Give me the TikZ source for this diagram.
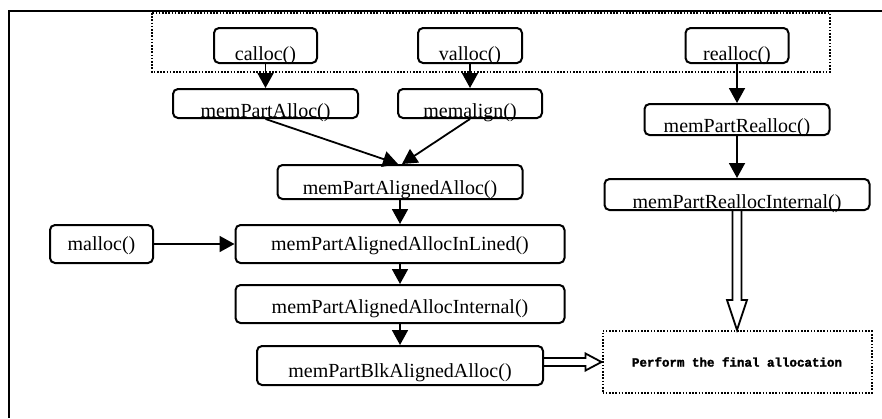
\documentclass[tikz,border=0pt]{standalone}
\usepackage{fontspec}
\setmainfont{Liberation Serif}
\newfontfamily\finalfont{Liberation Mono}[BoldFeatures = {FakeBold = 2}]
\usetikzlibrary{arrows.meta}
\usetikzlibrary{calc}
\tikzset{fn/.style = {draw, fill = white, line width = 1pt, rounded corners = 2.5pt, text depth = 0pt}}
\tikzset{call/.style = {line width = 0.9pt, -{Triangle[length = 7.5pt, width = 8pt]}}}
\tikzset{pass/.style = {line width = 0.9pt, line join = miter}}
\tikzset{dots/.style = {line width = 1pt, dash pattern = on 0.8pt off 0.8pt}}

\begin{document}
\begin{tikzpicture}[x = 0.5pt, y = -0.5pt]
      \useasboundingbox (0, 0) rectangle (882, 418);
      % frame, top and left edges only
      \draw [line width = 1pt] (882, 11) -| (9, 418);
      % the calls a user makes
      \draw [dots] (152, 13) rectangle (830, 72);
      \node [fn, minimum width = 51.5pt, inner ysep = 1.5pt, text height = 14.5pt] (calloc) at (265.5, 45.5) {calloc()};
      \node [fn, minimum width = 52pt, inner ysep = 1.5pt, text height = 14.5pt] (valloc) at (470, 45.5) {valloc()};
      \node [fn, minimum width = 51.5pt, inner ysep = 1.5pt, text height = 14.5pt] (realloc) at (737, 45.5) {realloc()};
      \node [fn, minimum width = 92.5pt, inner ysep = 0.5pt, text height = 13.5pt] (partalloc) at (265.5, 103.5) {memPartAlloc()};
      \node [fn, minimum width = 72pt, inner ysep = 0.5pt, text height = 13.5pt] (memalign) at (470, 103.5) {memalign()};
      \node [fn, minimum width = 92.5pt, inner ysep = 1.5pt, text height = 12.5pt] (partrealloc) at (737, 119.5) {memPartRealloc()};
      \node [fn, minimum width = 122.5pt, inner ysep = 2.5pt, text height = 12pt] (aligned) at (400, 182) {memPartAlignedAlloc()};
      \node [fn, minimum width = 132.5pt, inner ysep = 1pt, text height = 13.5pt] (reallocint) at (737, 194.5) {memPartReallocInternal()};
      \node [fn, minimum width = 51.5pt, inner ysep = 6.5pt, text height = 6pt] (malloc) at (101.5, 244) {malloc()};
      \node [fn, minimum width = 164.5pt, inner ysep = 6.5pt, text height = 6pt] (inlined) at (400, 244) {memPartAlignedAllocInLined()};
      \node [fn, minimum width = 164.5pt, inner ysep = 5pt, text height = 9pt] (alignedint) at (400, 304) {memPartAlignedAllocInternal()};
      \node [fn, minimum width = 143pt, inner ysep = 4pt, text height = 11.5pt] (blkalloc) at (400, 365.5) {memPartBlkAlignedAlloc()};
      \node [draw, dots, minimum width = 134.5pt, minimum height = 31pt, font = \finalfont\bfseries\fontsize{6.25}{7.5}\selectfont] (final) at (737, 362) {Perform the final allocation};
      % call edges
      \draw [call] (calloc) -- (partalloc);
      \draw [call] (valloc) -- (memalign);
      \draw [call] (realloc) -- (partrealloc);
      \draw [call] (partrealloc) -- (reallocint);
      \draw [call] (partalloc.south) -- ([xshift = -1pt]aligned.north);
      \draw [call] (memalign.south) -- ([xshift = 1pt]aligned.north);
      \draw [call] (aligned) -- (inlined);
      \draw [call] (malloc) -- (inlined);
      \draw [call] (inlined) -- (alignedint);
      \draw [call] (alignedint) -- (blkalloc);
      % hollow arrows into the final step
      \draw [pass] ([xshift = -2.25pt]reallocint.south) -- ($(final.north) + (-2.25pt, 15pt)$) -- ($(final.north) + (-5pt, 15pt)$)
        -- (final.north) -- ($(final.north) + (5pt, 15pt)$) -- ($(final.north) + (2.25pt, 15pt)$) -- ([xshift = 2.25pt]reallocint.south);
      \draw [pass] ($(blkalloc.east |- final.west) + (0, 2pt)$) -- ($(final.west) + (-8pt, 2pt)$) -- ($(final.west) + (-8pt, 4.25pt)$)
        -- (final.west) -- ($(final.west) + (-8pt, -4.25pt)$) -- ($(final.west) + (-8pt, -2pt)$) -- ($(blkalloc.east |- final.west) + (0, -2pt)$);
    \end{tikzpicture}
\end{document}
